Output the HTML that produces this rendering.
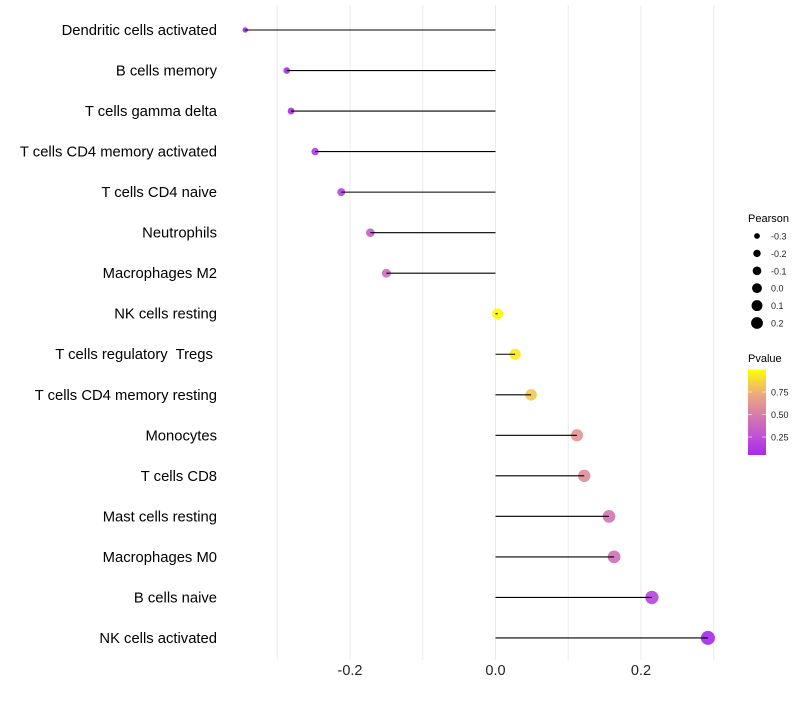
<!DOCTYPE html>
<html><head><meta charset="utf-8"><style>
body{margin:0;background:#fff;font-family:"Liberation Sans",sans-serif;}
svg text{font-family:"Liberation Sans",sans-serif;white-space:pre;}
</style></head><body>
<svg id="chart" width="800" height="700" xmlns="http://www.w3.org/2000/svg">
<g id="grid"></g>
<g id="marks"></g>
<g id="ylabels"></g>
<g id="xlabels"></g>
<g id="legend"></g>
</svg>
<script>
const categories=["Dendritic cells activated","B cells memory","T cells gamma delta","T cells CD4 memory activated","T cells CD4 naive","Neutrophils","Macrophages M2","NK cells resting","T cells regulatory  Tregs ","T cells CD4 memory resting","Monocytes","T cells CD8","Mast cells resting","Macrophages M0","B cells naive","NK cells activated"];
const pearson=[-0.344,-0.287,-0.281,-0.248,-0.212,-0.172,-0.150,0.003,0.027,0.049,0.112,0.122,0.156,0.163,0.215,0.292];
const pvalues=[0.03,0.08,0.08,0.12,0.2,0.32,0.4,0.99,0.93,0.83,0.62,0.58,0.45,0.42,0.18,0.04];
const xTicks=[-0.2,0.0,0.2];
const xMinor=[-0.3,-0.1,0.1,0.3];
const sizeLegend=[-0.3,-0.2,-0.1,0.0,0.1,0.2];
const pTicks=[0.25,0.5,0.75];

const NS="http://www.w3.org/2000/svg";
const x=v=>495.5+v*727.5;
const y=i=>30+i*40.53;
const r=v=>Math.sqrt(Math.max(2.3,30+66*v));
const stops=[[0,[160,32,240]],[0.25,[190,80,215]],[0.5,[215,125,170]],[0.75,[238,175,120]],[1,[255,255,0]]];
function col(p){p=Math.max(0,Math.min(1,p));for(let k=1;k<stops.length;k++){if(p<=stops[k][0]){const a=stops[k-1],b=stops[k],t=(p-a[0])/(b[0]-a[0]);const c=a[1].map((v,j)=>Math.round(v+(b[1][j]-v)*t));return `rgb(${c})`;}}return 'rgb(255,255,0)';}
function el(tag,attrs,parent){const e=document.createElementNS(NS,tag);for(const k in attrs)e.setAttribute(k,attrs[k]);parent.appendChild(e);return e;}
const grid=document.getElementById('grid'),marks=document.getElementById('marks'),yl=document.getElementById('ylabels'),xl=document.getElementById('xlabels'),lg=document.getElementById('legend');
xMinor.concat(xTicks).forEach(v=>{const l=el('line',{x1:x(v),x2:x(v),y1:5,y2:660,stroke:'#ebebeb','stroke-width':1},grid);

});
xTicks.forEach(v=>{const t=el('text',{x:x(v),y:675,'text-anchor':'middle','font-size':14.5,fill:'#222'},xl);t.textContent=v.toFixed(1);

});
categories.forEach((c,i)=>{
const t=el('text',{x:217,y:y(i)+5,'text-anchor':'end','font-size':14.8,fill:'#000'},yl);t.textContent=c;


const v=pearson[i];
const cc=el('circle',{cx:x(v),cy:y(i),r:r(v),fill:col(pvalues[i]),'fill-opacity':0.9},marks);


const l=el('line',{x1:x(0),x2:x(v),y1:y(i),y2:y(i),stroke:'#000','stroke-width':1.1},marks);


});
let t=el('text',{x:748,y:222,'font-size':11,fill:'#000'},lg);t.textContent='Pearson';


sizeLegend.forEach((v,k)=>{const cy=236+k*17.4;
const c=el('circle',{cx:757,cy:cy,r:r(v)*0.9,fill:'#000'},lg);


const tt=el('text',{x:771,y:cy+3.5,'font-size':9,fill:'#222'},lg);tt.textContent=v.toFixed(1);

});
t=el('text',{x:748,y:362,'font-size':11,fill:'#000'},lg);t.textContent='Pvalue';


const defs=el('defs',{},lg);const g=el('linearGradient',{id:'pg',x1:0,y1:1,x2:0,y2:0},defs);
const pb=0.05;for(let k=0;k<=10;k++){const p=pb+(1-pb)*k/10;el('stop',{offset:k/10,'stop-color':col(p)},g);}
const pY=p=>459.5-p*90;
const bar=el('rect',{x:748,y:pY(1),width:18,height:pY(pb)-pY(1),fill:'url(#pg)'},lg);


pTicks.forEach(p=>{el('line',{x1:748,x2:752,y1:pY(p),y2:pY(p),stroke:'#fff','stroke-opacity':0.6},lg);el('line',{x1:762,x2:766,y1:pY(p),y2:pY(p),stroke:'#fff','stroke-opacity':0.6},lg);
const tt=el('text',{x:771,y:pY(p)+3.5,'font-size':9,fill:'#222'},lg);tt.textContent=p.toFixed(2);

});
</script>
</body></html>
